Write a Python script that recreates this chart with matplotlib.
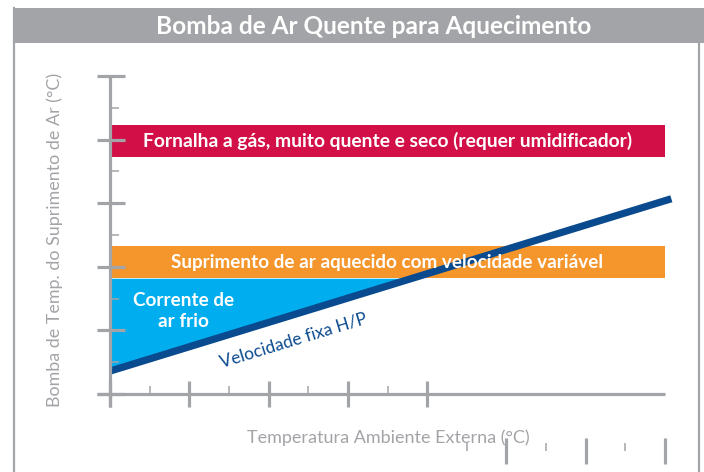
import matplotlib
matplotlib.use("Agg")
import matplotlib.pyplot as plt
from matplotlib.patches import Rectangle
from matplotlib.lines import Line2D
import numpy as np

# ---- data ----
title = "Bomba de Ar Quente para Aquecimento"
ylabel = "Bomba de Temp. do Suprimento de Ar (°C)"
xlabel = "Temperatura Ambiente Externa (°C)"

x_major = [0, 1, 2, 3, 4, 5, 6, 7]
x_minor = [0.5, 1.5, 2.5, 3.5, 4.5, 5.5, 6.5]
y_major = [0, 1, 2, 3, 4, 5]
y_minor = [0.5, 1.5, 2.5, 3.5, 4.5]

band_labels = ["Fornalha a gás, muito quente e seco (requer umidificador)",
               "Suprimento de ar aquecido com velocidade variável"]
band_bottoms = [3.73, 1.82]
band_tops = [4.23, 2.33]
band_x = [0.0, 7.0]

hp_x = [0.0, 7.08]
hp_y = [0.36, 3.07]
hp_label = "Velocidade fixa H/P"
cold_label = "Corrente de\nar frio"

# ---- styles ----
W, H = 704, 472
GRAY = "#a3a4a8"
RED = "#d20f46"
ORANGE = "#f5962d"
CYAN = "#00aeef"
NAVY = "#0a4a8e"
FONT = "Lato"

fig = plt.figure(figsize=(W / 100, H / 100), dpi=100)
fig.patch.set_facecolor("white")

def fx(px):
    return px / W

def fy(py):
    return 1 - py / H

# frame & title bar
fig.add_artist(Rectangle((fx(14), fy(43)), fx(704) - fx(14), (43 - 8) / H,
                         transform=fig.transFigure, facecolor=GRAY,
                         edgecolor="none", zorder=0))
fig.add_artist(Line2D([fx(14), fx(14)], [fy(8), fy(472)], transform=fig.transFigure,
                      color=GRAY, lw=1.6))
fig.add_artist(Line2D([fx(699), fx(699)], [fy(43), fy(472)], transform=fig.transFigure,
                      color=GRAY, lw=1.6))
fig.text(fx(374), fy(26), title, color="white", fontsize=17.6, fontweight="bold",
         family=FONT, ha="center", va="center")

# axes: x 0..7 -> px 110..665 ; y 0..5 -> py 394..76
x0, x1 = 110, 665
y0, y1 = 394, 76
ax = fig.add_axes([fx(x0), fy(y0), (x1 - x0) / W, (y0 - y1) / H])
ax.set_xlim(0, 7)
ax.set_ylim(0, 5)
ax.axis("off")

xs = (x1 - x0) / 7.0   # px per unit x
ys = (y0 - y1) / 5.0   # px per unit y

def dx(px):
    return px / xs

def dy(py):
    return py / ys

# bands
band_colors = [RED, ORANGE]
band_sizes = [13.9, 13.6]
for lab, b, t, c, fs in zip(band_labels, band_bottoms, band_tops, band_colors, band_sizes):
    ax.fill_between(band_x, b, t, color=c, lw=0, zorder=1)
    ax.text(3.5, (b + t) / 2, lab, color="white", fontsize=fs, fontweight="bold",
            family=FONT, ha="center", va="center", zorder=5)

# cold air region
slope = (hp_y[1] - hp_y[0]) / (hp_x[1] - hp_x[0])
xi = (band_bottoms[1] - hp_y[0]) / slope
xx = np.array([0.0, xi])
ax.fill_between(xx, hp_y[0] + slope * xx, band_bottoms[1], color=CYAN, lw=0, zorder=1)
ax.text(0.93, 1.30, cold_label, color="white", fontsize=13.6, fontweight="bold",
        family=FONT, ha="center", va="center", linespacing=1.3, zorder=5)

# fixed speed line
ax.plot(hp_x, hp_y, color=NAVY, lw=5.2, solid_capstyle="butt", zorder=3, clip_on=False)
ax.text(2.32, 0.84, hp_label, color=NAVY, fontsize=12.5, family=FONT,
        rotation=17, rotation_mode="anchor", ha="center", va="center", zorder=5)

# axis lines
ax.plot([dx(97 - x0), 7], [0, 0], color=GRAY, lw=2.3, clip_on=False, zorder=4,
        solid_capstyle="butt")
ax.plot([0, 0], [dy(y0 - 407), 5], color=GRAY, lw=2.3, clip_on=False, zorder=4,
        solid_capstyle="butt")

# y ticks
for v in y_major:
    ax.plot([dx(97 - x0), dx(125 - x0)], [v, v], color=GRAY, lw=2.3, clip_on=False,
            zorder=4, solid_capstyle="butt")
for v in y_minor:
    ax.plot([0, dx(119 - x0)], [v, v], color=GRAY, lw=1.1, clip_on=False, zorder=4,
            solid_capstyle="butt")

# x ticks (the ones beyond 4 are displaced downward, as in the original)
shift = dy(57)
for v in x_major:
    s = shift if v > 4 else 0
    ax.plot([v, v], [dy(y0 - 381) - s, dy(y0 - 407) - s], color=GRAY, lw=2.3,
            clip_on=False, zorder=4, solid_capstyle="butt")
for v in x_minor:
    s = shift if v > 4 else 0
    ax.plot([v, v], [dy(y0 - 386) - s, 0 - s], color=GRAY, lw=1.1,
            clip_on=False, zorder=4, solid_capstyle="butt")

# axis labels
fig.text(fx(55), fy(240), ylabel, color=GRAY, fontsize=12.9, family=FONT,
         rotation=90, ha="center", va="center")
fig.text(fx(388), fy(438), xlabel, color=GRAY, fontsize=13, family=FONT,
         ha="center", va="center")

fig.savefig("out.png", dpi=100, facecolor="white")
